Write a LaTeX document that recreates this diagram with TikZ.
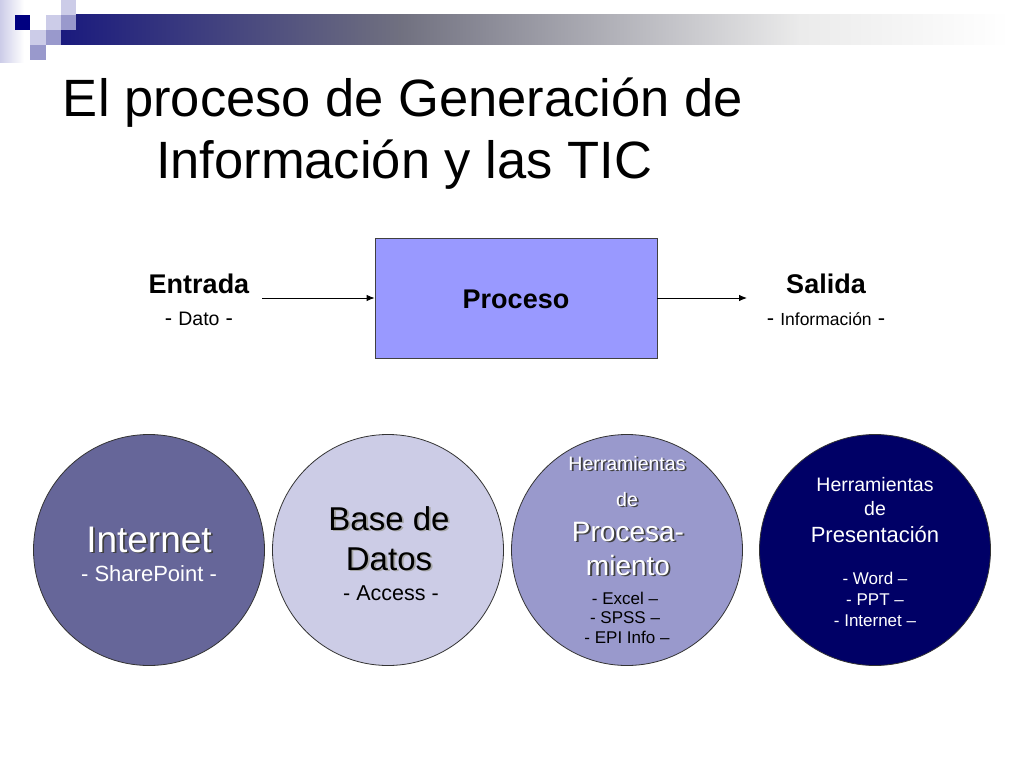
\documentclass[tikz,border=0pt]{standalone}
\usepackage{fontspec}
\setmainfont{Liberation Sans}
\usetikzlibrary{arrows.meta}
\definecolor{barnavy}{HTML}{1A1A7E}
\definecolor{sqnavy}{HTML}{000080}
\definecolor{sqlight}{HTML}{CCCCE8}
\definecolor{sqmid}{HTML}{9999CC}
\definecolor{procfill}{HTML}{9999FF}
\definecolor{cinternet}{HTML}{666699}
\definecolor{cbase}{HTML}{CCCCE6}
\definecolor{cproc}{HTML}{9999CC}
\definecolor{cpres}{HTML}{000066}
\newcommand{\fs}[1]{\fontsize{#1}{#1}\selectfont}
\tikzset{
  txt/.style={inner sep=0pt, anchor=base},
  bigcirc/.style={circle, draw=black!80, line width=0.8pt, minimum size=231pt, inner sep=0pt},
  conn/.style={draw=black, line width=0.9pt, -{Latex[length=8pt,width=6.5pt]}},
  shw/.style={txt, text=black!75},
  shl/.style={txt, text=black!35},
}
% shadowed text: name, x, y, size, style, shadow style, text
\newcommand{\shtext}[7]{%
  \node[#6, font=\fs{#4}] (#1s) at (#2+1.8,#3+1.8) {#7};
  \node[#5, font=\fs{#4}] (#1) at (#2,#3) {#7};}
\begin{document}
\begin{tikzpicture}[x=1pt,y=-1pt]
\useasboundingbox (0,0) rectangle (1024,768);
\fill[white] (0,0) rectangle (1024,768);
% top decoration
\shade[left color=sqlight, right color=white] (0,0) rectangle (24,62);
\shade[left color=barnavy, right color=black!45!sqlight] (61,15) rectangle (400,45);
\shade[left color=black!45!sqlight, right color=black!8!white] (399.5,15) rectangle (800,45);
\shade[left color=black!8!white, right color=white] (799.5,15) rectangle (1010,45);
\fill[sqnavy] (15,15) rectangle (30,30);
\fill[sqlight] (61,0) rectangle (76,15);
\fill[sqlight] (46,15) rectangle (61,30);
\fill[sqmid] (61,15) rectangle (76,30);
\fill[sqlight] (30,30) rectangle (46,45);
\fill[sqmid] (46,30) rectangle (61,45);
\fill[sqmid] (30,45) rectangle (46,60);
% title
\node[txt, font=\fs{52.5}] (t1) at (403,116) {El proceso de Generación de};
\node[txt, font=\fs{52.5}] (t2) at (404,178) {Información y las TIC};
% process row
\node[draw=black!75, line width=0.8pt, fill=procfill, minimum width=282pt, minimum height=120pt, inner sep=0pt] (proc) at (516,298) {};
\node[txt, font=\fs{27}\bfseries] (proct) at (516,308) {Proceso};
\node[txt, font=\fs{27}\bfseries] (ent) at (199,293) {Entrada};
\node[txt] (dato) at (199,325) {{\fs{22}- }{\fs{19.5}Dato}{\fs{22} -}};
\node[txt, font=\fs{27}\bfseries] (sal) at (826,293) {Salida};
\node[txt] (info) at (826,325) {{\fs{22}- }{\fs{17.5}Información}{\fs{22} -}};
\coordinate (ein) at (262,298);
\coordinate (sout) at (747,298);
\draw[conn] (ein) -- (proc.west);
\draw[conn] (proc.east) -- (sout);
% circles
\node[bigcirc, fill=cinternet] (c1) at (149,550) {};
\node[bigcirc, fill=cbase] (c2) at (388,550) {};
\node[bigcirc, fill=cproc] (c3) at (627,550) {};
\node[bigcirc, fill=cpres] (c4) at (875,550) {};
% Internet
\shtext{i1}{149}{552}{37}{txt, text=white}{shw}{Internet}
\node[txt, font=\fs{22}, text=white] (i2) at (149,581) {- SharePoint -};
% Base de Datos
\shtext{b1}{389}{530}{33}{txt, text=black}{shl}{Base de}
\shtext{b2}{389}{570}{33}{txt, text=black}{shl}{Datos}
\node[txt, font=\fs{21.5}] (b3) at (391,600) {- Access -};
% Procesamiento
\shtext{p1}{627}{470}{19.5}{txt, text=white}{shw}{Herramientas}
\shtext{p2}{627}{506}{19.5}{txt, text=white}{shw}{de}
\shtext{p3}{628}{541}{28}{txt, text=white}{shw}{Procesa-}
\shtext{p4}{628}{575}{28}{txt, text=white}{shw}{miento}
\node[txt, font=\fs{17}] (p5) at (625,604) {- Excel --};
\node[txt, font=\fs{17}] (p6) at (625,623) {- SPSS --};
\node[txt, font=\fs{17}] (p7) at (627,643) {- EPI Info --};
% Presentacion
\node[txt, font=\fs{19.5}, text=white] (r1) at (875,491) {Herramientas};
\node[txt, font=\fs{19.5}, text=white] (r2) at (875,515) {de};
\node[txt, font=\fs{22}, text=white] (r3) at (875,542) {Presentación};
\node[txt, font=\fs{17}, text=white] (r4) at (875,584) {- Word --};
\node[txt, font=\fs{17}, text=white] (r5) at (875,605) {- PPT --};
\node[txt, font=\fs{17}, text=white] (r6) at (875,626) {- Internet --};
\end{tikzpicture}
\end{document}
